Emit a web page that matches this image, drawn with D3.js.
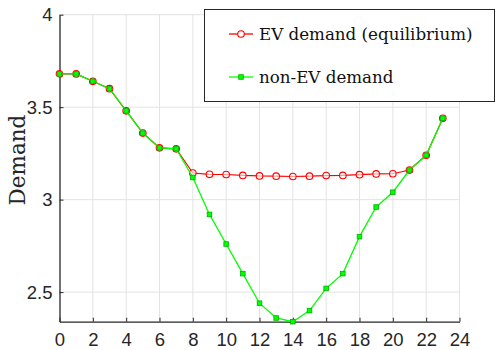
<!DOCTYPE html>
<html>
<head>
<meta charset="utf-8">
<script src="https://cdn.jsdelivr.net/npm/d3@7"></script>
<style>
  body { margin: 0; background: #fff; }
  svg { display: block; }
</style>
</head>
<body>
<div id="chart"></div>
<script>
const hours = d3.range(0, 24);
const evDemand = [3.68, 3.68, 3.64, 3.60, 3.48, 3.36, 3.28, 3.275, 3.144, 3.137, 3.136, 3.131, 3.128, 3.127, 3.125, 3.127, 3.13, 3.131, 3.135, 3.139, 3.14, 3.16, 3.24, 3.44];
const nonEvDemand = [3.68, 3.68, 3.64, 3.60, 3.48, 3.36, 3.28, 3.275, 3.12, 2.92, 2.76, 2.60, 2.44, 2.36, 2.34, 2.40, 2.52, 2.60, 2.80, 2.96, 3.04, 3.16, 3.24, 3.44];
const xTicks = [0, 2, 4, 6, 8, 10, 12, 14, 16, 18, 20, 22, 24];
const yTicks = [2.5, 3, 3.5, 4];
const seriesNames = ['EV demand (equilibrium)', 'non-EV demand'];

const width = 495, height = 350;
const margin = { top: 14.7, right: 35.5, bottom: 28.3, left: 59.5 };
const innerWidth = width - margin.left - margin.right;
const innerHeight = height - margin.top - margin.bottom;

const svg = d3.select('#chart').append('svg')
  .attr('width', width)
  .attr('height', height);

const g = svg.append('g')
  .attr('transform', `translate(${margin.left},${margin.top})`);

const x = d3.scaleLinear().domain([0, 24]).range([0, innerWidth]);
const y = d3.scaleLinear().domain([2.34, 4]).range([innerHeight, 0]);

// grid
g.append('g').selectAll('line').data(xTicks.slice(1)).enter().append('line')
  .attr('x1', d => x(d)).attr('x2', d => x(d))
  .attr('y1', 0).attr('y2', innerHeight)
  .attr('stroke', '#e3e3e3').attr('stroke-width', 1);
g.append('g').selectAll('line').data(yTicks).enter().append('line')
  .attr('x1', 0).attr('x2', innerWidth)
  .attr('y1', d => y(d)).attr('y2', d => y(d))
  .attr('stroke', '#e3e3e3').attr('stroke-width', 1);

// axes
const xAxis = g.append('g')
  .attr('transform', `translate(0,${innerHeight})`)
  .call(d3.axisBottom(x).tickValues(xTicks).tickSizeInner(-4).tickSizeOuter(0).tickPadding(11));
const yAxis = g.append('g')
  .call(d3.axisLeft(y).tickValues(yTicks).tickSizeInner(-4).tickSizeOuter(0).tickPadding(7)
    .tickFormat(d3.format('')));

[xAxis, yAxis].forEach(a => {
  a.select('.domain').attr('stroke', '#262626').attr('stroke-width', 1.3);
  a.selectAll('.tick line').attr('stroke', '#262626').attr('stroke-width', 1);
  a.selectAll('.tick text')
    .attr('fill', '#262626')
    .style('font-family', '"Liberation Sans", Arial, sans-serif')
    .style('font-size', '18.5px');
});

// y label
svg.append('text')
  .attr('transform', `translate(25,160) rotate(-90)`)
  .attr('text-anchor', 'middle')
  .style('font-family', '"DejaVu Serif", serif')
  .style('font-size', '21.5px')
  .attr('fill', '#262626')
  .text('Demand');

const line = d3.line().x((d, i) => x(hours[i])).y(d => y(d));

// EV series (red, open circles)
g.append('path').datum(evDemand)
  .attr('d', line).attr('fill', 'none')
  .attr('stroke', '#ff0000').attr('stroke-width', 1.2);
g.append('g').selectAll('circle').data(evDemand).enter().append('circle')
  .attr('cx', (d, i) => x(hours[i])).attr('cy', d => y(d))
  .attr('r', 3.3).attr('fill', '#fff').attr('fill-opacity', 0.6)
  .attr('stroke', '#ff0000').attr('stroke-width', 1.1);

// non-EV series (green, squares)
g.append('path').datum(nonEvDemand)
  .attr('d', line).attr('fill', 'none')
  .attr('stroke', '#00ff00').attr('stroke-width', 1.3);
g.append('g').selectAll('rect').data(nonEvDemand).enter().append('rect')
  .attr('x', (d, i) => x(hours[i]) - 2.3).attr('y', d => y(d) - 2.3)
  .attr('width', 4.6).attr('height', 4.6)
  .attr('fill', '#00ff00').attr('stroke', '#00b000').attr('stroke-width', 0.8);

// legend
const legend = svg.append('g');
legend.append('rect')
  .attr('x', 204.5).attr('y', 9.5).attr('width', 290).attr('height', 92)
  .attr('fill', '#fff').attr('stroke', '#262626').attr('stroke-width', 1);

const legendRows = [
  { name: seriesNames[0], color: '#ff0000', cy: 34, shape: 'circle' },
  { name: seriesNames[1], color: '#00ff00', cy: 77, shape: 'square' }
];
legendRows.forEach(r => {
  legend.append('line')
    .attr('x1', 229).attr('x2', 253).attr('y1', r.cy).attr('y2', r.cy)
    .attr('stroke', r.color).attr('stroke-width', 1.3);
  if (r.shape === 'circle') {
    legend.append('circle').attr('cx', 241).attr('cy', r.cy).attr('r', 3.3)
      .attr('fill', '#fff').attr('stroke', r.color).attr('stroke-width', 1.1);
  } else {
    legend.append('rect').attr('x', 241 - 2.3).attr('y', r.cy - 2.3)
      .attr('width', 4.6).attr('height', 4.6)
      .attr('fill', r.color).attr('stroke', '#00b000').attr('stroke-width', 0.8);
  }
  legend.append('text')
    .attr('x', 259).attr('y', r.cy).attr('dy', '0.35em')
    .style('font-family', '"DejaVu Serif", serif')
    .style('font-size', '16.7px')
    .attr('fill', '#111')
    .text(r.name);
});
</script>
</body>
</html>
